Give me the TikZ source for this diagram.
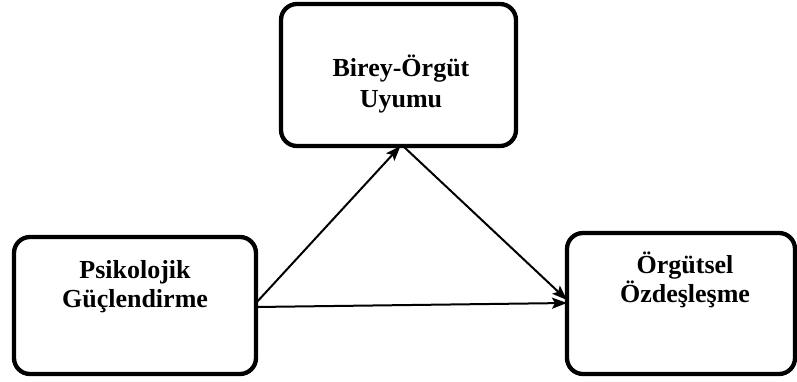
\documentclass[tikz,border=0pt]{standalone}
\usepackage{fontspec}
\setmainfont{Liberation Serif}
\usetikzlibrary{arrows.meta}
\begin{document}
\begin{tikzpicture}[x=1pt,y=-1pt,
  box/.style={draw=black, line width=4.3pt, rounded corners=16pt, fill=white,
    inner sep=0pt, outer sep=0pt},
  lbl/.style={anchor=base, inner sep=0pt, font=\fontsize{26}{30}\selectfont\bfseries},
  link/.style={line width=2pt, -{Stealth[length=15pt,width=11pt,inset=3pt]}}]
  \useasboundingbox (0,0) rectangle (797,382);

  % three construct boxes
  \node[box, minimum width=235pt, minimum height=142pt] (tb) at (398.5,75) {};
  \node[box, minimum width=242pt, minimum height=137pt] (lb) at (135,305.5) {};
  \node[box, minimum width=228pt, minimum height=141pt] (rb) at (681,303.5) {};

  % box labels
  \node[lbl] (tb1) at (401,77) {Birey-Örgüt};
  \node[lbl] (tb2) at (401,108) {Uyumu};
  \node[lbl] (lb1) at (135,278) {Psikolojik};
  \node[lbl] (lb2) at (135,307) {Güçlendirme};
  \node[lbl] (rb1) at (685,273) {Örgütsel};
  \node[lbl] (rb2) at (685,302) {Özdeşleşme};

  % paths between the constructs
  \draw[link] ([yshift=2.5pt]lb.east) -- ([xshift=2pt]tb.south);
  \draw[link] ([xshift=4.5pt]tb.south) -- ([yshift=3.5pt]rb.west);
  \draw[link] ([yshift=-1.5pt]lb.east) -- ([yshift=0.5pt]rb.west);
\end{tikzpicture}
\end{document}
